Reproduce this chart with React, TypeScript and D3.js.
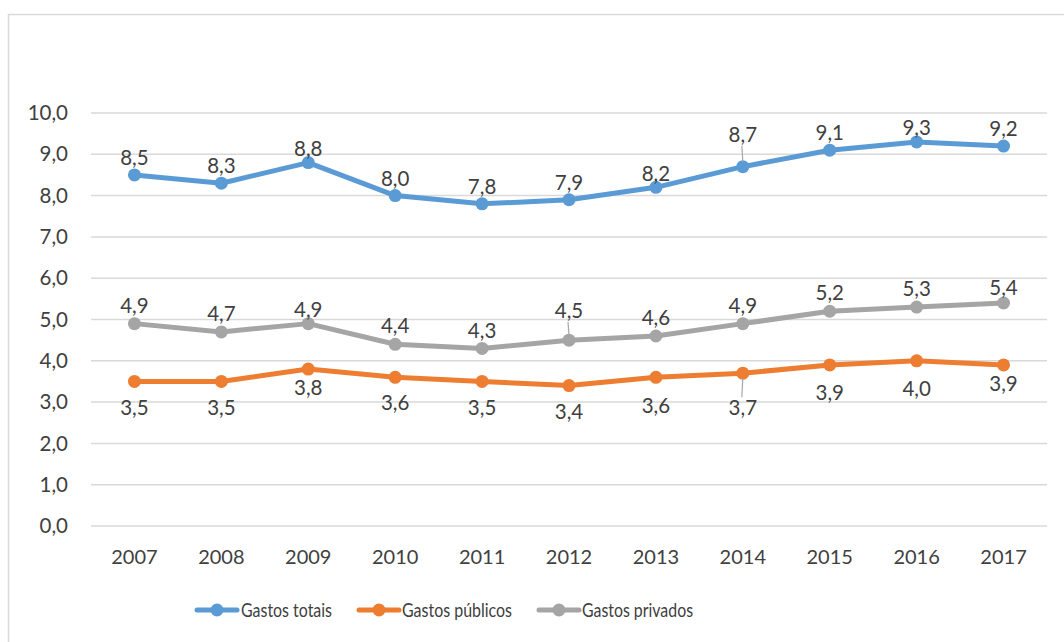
import React from "react";
import * as d3 from "d3";

const years = ["2007","2008","2009","2010","2011","2012","2013","2014","2015","2016","2017"];
const totais = [8.5, 8.3, 8.8, 8.0, 7.8, 7.9, 8.2, 8.7, 9.1, 9.3, 9.2];
const publicos = [3.5, 3.5, 3.8, 3.6, 3.5, 3.4, 3.6, 3.7, 3.9, 4.0, 3.9];
const privados = [4.9, 4.7, 4.9, 4.4, 4.3, 4.5, 4.6, 4.9, 5.2, 5.3, 5.4];
const yTicks = [0, 1, 2, 3, 4, 5, 6, 7, 8, 9, 10];

// label vertical offsets (px) relative to point
const offTotais = [-17, -17, -14, -17, -17, -17, -14, -32, -17, -14, -17];
const offPublicos = [26, 26, 19, 26, 26, 26, 29, 35, 28, 28, 19];
const offPrivados = [-18, -18, -14, -18, -18, -29, -18, -18, -18, -18, -15];
const leaderTotais = [false, false, false, false, false, false, false, true, false, false, false];
const leaderPublicos = [false, false, false, false, false, false, false, true, false, false, false];
const leaderPrivados = [false, false, false, false, false, true, false, false, false, false, false];

const series = [
  { name: "Gastos totais", values: totais, color: "#5B9BD5", off: offTotais, leader: leaderTotais },
  { name: "Gastos públicos", values: publicos, color: "#ED7D31", off: offPublicos, leader: leaderPublicos },
  { name: "Gastos privados", values: privados, color: "#A5A5A5", off: offPrivados, leader: leaderPrivados },
];

const fmt = (v: number) => v.toFixed(1).replace(".", ",");
const FONT = "Lato, 'Open Sans', sans-serif";
const TEXT = "#404040";

export default function App() {
  const left = 91, right = 1047, top = 113, bottom = 526;
  const x = d3.scalePoint<string>().domain(years).range([left, right]).padding(0.5);
  const y = d3.scaleLinear().domain([0, 10]).range([bottom, top]);
  const line = d3.line<number>().x((_, i) => x(years[i])!).y((d) => y(d));

  const legendItems = [
    { lx: 197, tx: 241, w: 91 },
    { lx: 359, tx: 402, w: 110 },
    { lx: 539, tx: 582, w: 111 },
  ];

  return (
    <svg width={1064} height={642} style={{ position: "absolute", left: 0, top: 0 }} fontFamily={FONT}>
      <rect x={0} y={0} width={1064} height={642} fill="#fff" />
      <rect x={8.5} y={14.5} width={1100} height={700} fill="#fff" stroke="#D9D9D9" strokeWidth={1.5} />
      {yTicks.map((t) => (
        <g key={t}>
          <line x1={left} x2={right} y1={y(t)} y2={y(t)} stroke="#D9D9D9" strokeWidth={1.5} />
          <text x={68} y={y(t)} dy="0.35em" textAnchor="end" fontSize={20.5} fill={TEXT}>{fmt(t)}</text>
        </g>
      ))}
      {years.map((yr) => (
        <text key={yr} x={x(yr)} y={557} dy="0.35em" textAnchor="middle" fontSize={20} fill={TEXT}>{yr}</text>
      ))}
      {series.map((s) => (
        <g key={s.name}>
          <path d={line(s.values)!} fill="none" stroke={s.color} strokeWidth={5} strokeLinejoin="round" strokeLinecap="round" />
          {s.values.map((v, i) => (
            <circle key={i} cx={x(years[i])} cy={y(v)} r={6.5} fill={s.color} />
          ))}
        </g>
      ))}
      {series.map((s) => (
        <g key={s.name + "l"}>
          {s.values.map((v, i) => {
            const cx = x(years[i])!;
            const cy = y(v);
            const ly = cy + s.off[i];
            return (
              <g key={i}>
                {s.leader[i] && (
                  <line
                    x1={cx - 1}
                    x2={cx}
                    y1={s.off[i] < 0 ? ly + 11 : ly - 11}
                    y2={s.off[i] < 0 ? cy - 5 : cy + 5}
                    stroke="#A6A6A6"
                    strokeWidth={1.2}
                  />
                )}
                <text x={cx} y={ly} dy="0.35em" textAnchor="middle" fontSize={20.5} fill={TEXT}>{fmt(v)}</text>
              </g>
            );
          })}
        </g>
      ))}
      {series.map((s, i) => (
        <g key={s.name + "lg"}>
          <line x1={legendItems[i].lx} x2={legendItems[i].lx + 40} y1={610} y2={610} stroke={s.color} strokeWidth={5} strokeLinecap="round" />
          <circle cx={legendItems[i].lx + 20} cy={610} r={6.5} fill={s.color} />
          <text x={legendItems[i].tx} y={610} dy="0.35em" fontSize={20} fill={TEXT} textLength={legendItems[i].w} lengthAdjust="spacingAndGlyphs">{s.name}</text>
        </g>
      ))}
    </svg>
  );
}
